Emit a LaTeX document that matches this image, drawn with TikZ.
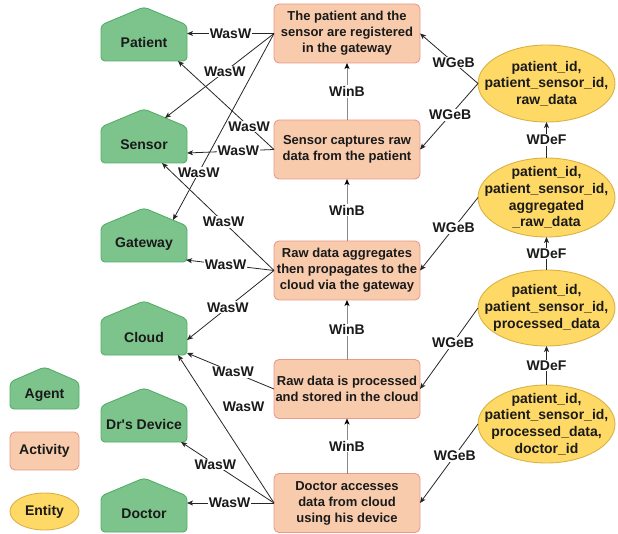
\documentclass[tikz,border=0pt]{standalone}
\usepackage{fontspec}
\setmainfont{Liberation Sans}
\usetikzlibrary{arrows.meta,shapes.geometric,backgrounds,calc}
\definecolor{agentfill}{HTML}{7DC48C}
\definecolor{agentline}{HTML}{52AE68}
\definecolor{actfill}{HTML}{F8CBAD}
\definecolor{actline}{HTML}{EB9A8A}
\definecolor{entfill}{HTML}{FFD966}
\definecolor{entline}{HTML}{D9B245}
\definecolor{edgecol}{HTML}{262626}
\definecolor{winbcol}{HTML}{8A8A8A}
\definecolor{txtcol}{HTML}{1A1A1A}
\newcommand\househ[2]{%
  \begin{scope}[on background layer]
    \draw[agentshape] (#1.south) -- (#1.south west) -- (#1.north west) -- ([shift={(0,-#2)}]#1.north) -- (#1.north east) -- (#1.south east) -- cycle;
  \end{scope}}
\begin{document}
\begin{tikzpicture}[x=1pt,y=-1pt,
  agentshape/.style={draw=agentline,fill=agentfill,line width=0.9pt,rounded corners=4pt},
  agent/.style={rectangle,minimum width=86pt,minimum height=36pt,inner sep=0,outer sep=0,text=txtcol,font=\fontsize{14}{16}\selectfont\bfseries},
  act/.style={rectangle,rounded corners=5pt,draw=actline,fill=actfill,line width=0.9pt,minimum width=146pt,minimum height=59pt,inner sep=0,outer sep=0,align=center,text=txtcol,font=\fontsize{13}{16}\selectfont\bfseries},
  ent/.style={ellipse,draw=entline,fill=entfill,line width=0.9pt,minimum width=137pt,minimum height=77pt,inner sep=0,outer sep=0},
  enttext/.style={align=center,inner sep=0,text=txtcol,font=\fontsize{14}{16.7}\selectfont\bfseries},
  lbl/.style={fill=white,inner sep=1pt,text=txtcol,font=\fontsize{14}{16}\selectfont\bfseries},
  wasw/.style={draw=edgecol,line width=0.8pt,-{Stealth[length=6pt,width=5pt,inset=1.5pt]}},
  winb/.style={draw=winbcol,line width=1pt,-{Stealth[length=6pt,width=5pt,inset=1.5pt,color=black]}}
]
\useasboundingbox (0,0) rectangle (618,534);

% agents
\node[agent] (patient) at (144,43) {Patient};
\node[agent] (sensor) at (144,145) {Sensor};
\node[agent] (gateway) at (144,244) {Gateway};
\node[agent] (cloud) at (144,337) {Cloud};
\node[agent] (drs) at (144,424) {Dr\textquotesingle s Device};
\node[agent] (doctor) at (144,514) {Doctor};
\foreach \n in {patient,sensor,gateway,cloud,drs,doctor} {\househ{\n}{18}}

% legend
\node[agent,minimum width=69pt,minimum height=27pt] (legagent) at (44.5,395.5) {Agent};
\househ{legagent}{15}
\node[act,minimum width=69pt,minimum height=38pt,font=\fontsize{14}{16}\selectfont\bfseries] (legact) at (44.5,451) {Activity};
\node[ent,minimum width=69pt,minimum height=37pt,text=txtcol,font=\fontsize{14}{16}\selectfont\bfseries] (legent) at (44.5,511.5) {Entity};

% activities
\node[act] (act1) at (347,33.5) {The patient and the\\sensor are registered\\in the gateway};
\node[act] (act2) at (347,149.5) {Sensor captures raw\\data from the patient};
\node[act] (act3) at (347,270.5) {Raw data aggregates\\then propagates to the\\cloud via the gateway};
\node[act] (act4) at (347,389) {Raw data is processed\\and stored in the cloud};
\node[act] (act5) at (347,503) {Doctor accesses\\data from cloud\\using his device};

% entities
\node[ent,label={[enttext]center:patient\_id,\\patient\_sensor\_id,\\raw\_data}] (ent1) at (546.5,83.5) {};
\node[ent,minimum height=79pt,label={[enttext]center:patient\_id,\\patient\_sensor\_id,\\aggregated\\\_raw\_data}] (ent2) at (546.5,197.5) {};
\node[ent,minimum height=76pt,label={[enttext]center:patient\_id,\\patient\_sensor\_id,\\processed\_data}] (ent3) at (546.5,308) {};
\node[ent,minimum height=78pt,label={[enttext]center:patient\_id,\\patient\_sensor\_id,\\processed\_data,\\doctor\_id}] (ent4) at (546.5,424) {};

% WasW edges
\draw[wasw] (act1.west) -- node[lbl,pos=0.5]{WasW} (act1.west -| patient.east);
\draw[wasw] (act1.west) -- node[lbl,pos=0.45]{WasW} ([shift={(21,-9)}]sensor.north);
\draw[wasw] (act1.west) -- node[lbl,pos=0.745]{WasW} ([shift={(29,-6)}]gateway.north);
\draw[wasw] (act2.west) -- node[lbl,pos=0.26]{WasW} ([shift={(34,0)}]patient.south);
\draw[wasw] (act2.west) -- node[lbl,pos=0.41]{WasW} ([shift={(0,8)}]sensor.east);
\draw[wasw] (act3.west) -- node[lbl,pos=0.45]{WasW} ([shift={(18,0)}]sensor.south);
\draw[wasw] (act3.west) -- node[lbl,pos=0.55]{WasW} ([shift={(-1,-2)}]gateway.south east);
\draw[wasw] (act3.west) -- node[lbl,pos=0.53]{WasW} ([shift={(0,3)}]cloud.east);
\draw[wasw] (act4.west) -- node[lbl,pos=0.47]{WasW} ([shift={(0,-2)}]cloud.south east);
\draw[wasw] (act5.west) -- node[lbl,pos=0.65,xshift=32pt,fill=none]{WasW} ([shift={(34,0)}]cloud.south);
\draw[wasw] (act5.west) -- node[lbl,pos=0.63]{WasW} ([shift={(37,0)}]drs.south);
\draw[wasw] (act5.west) -- node[lbl,pos=0.51]{WasW} (act5.west -| doctor.east);

% WinB edges
\draw[winb] (act2.north) -- node[lbl]{WinB} (act1.south);
\draw[winb] (act3.north) -- node[lbl]{WinB} (act2.south);
\draw[winb] (act4.north) -- node[lbl]{WinB} (act3.south);
\draw[winb] (act5.north) -- node[lbl]{WinB} (act4.south);

% WGeB edges
\draw[wasw] (ent1.west) -- node[lbl,pos=0.42]{WGeB} (act1.east);
\draw[wasw] (ent1.west) -- node[lbl,pos=0.48]{WGeB} (act2.east);
\draw[wasw] (ent2.west) -- node[lbl,pos=0.42]{WGeB} (act3.east);
\draw[wasw] (ent3.west) -- node[lbl,pos=0.43]{WGeB} (act4.east);
\draw[wasw] (ent4.west) -- node[lbl,pos=0.40]{WGeB} (act5.east);

% WDeF edges
\draw[wasw] (ent2.north) -- node[lbl]{WDeF} (ent1.south);
\draw[wasw] (ent3.north) -- node[lbl]{WDeF} (ent2.south);
\draw[wasw] (ent4.north) -- node[lbl]{WDeF} (ent3.south);
\end{tikzpicture}
\end{document}
